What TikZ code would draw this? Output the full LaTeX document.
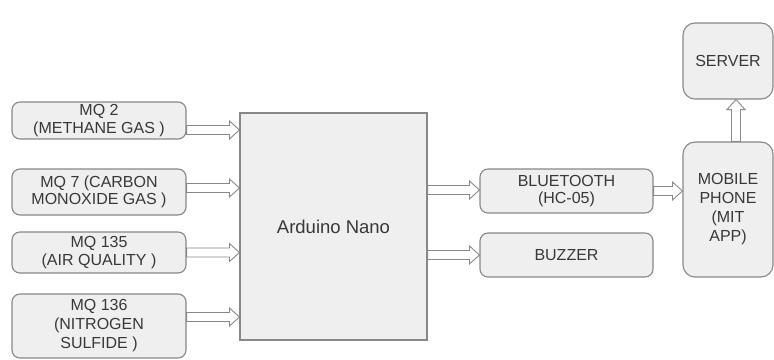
\documentclass[tikz,border=0pt]{standalone}
\usepackage{fontspec}
\setmainfont{Liberation Sans}
\usetikzlibrary{calc}
\definecolor{boxfill}{HTML}{EFEFEF}
\definecolor{boxline}{HTML}{888888}
\definecolor{txt}{HTML}{383838}
\tikzset{
  blk/.style={draw=boxline, fill=boxfill, line width=1.1pt, rounded corners=8pt,
    inner sep=0pt, align=center, text=txt,
    font=\fontsize{16}{17.5}\selectfont},
  blockarrow/.style={draw=boxline, fill=white, line width=0.9pt, line join=miter}
}
\newcommand\harrow[2]{\path[blockarrow] let \p1=(#1), \p2=(#2) in
  (\x1,\y1+4.5pt) -- (\x2-10pt,\y1+4.5pt) -- (\x2-10pt,\y1+9pt) -- (\x2,\y1)
  -- (\x2-10pt,\y1-9pt) -- (\x2-10pt,\y1-4.5pt) -- (\x1,\y1-4.5pt) -- cycle;}
\newcommand\varrow[2]{\path[blockarrow] let \p1=(#1), \p2=(#2) in
  (\x1-4.5pt,\y1) -- (\x1-4.5pt,\y2-10pt) -- (\x1-9pt,\y2-10pt) -- (\x1,\y2)
  -- (\x1+9pt,\y2-10pt) -- (\x1+4.5pt,\y2-10pt) -- (\x1+4.5pt,\y1) -- cycle;}
\begin{document}
\begin{tikzpicture}[x=1pt,y=-1pt]
\useasboundingbox (0,0) rectangle (774,359);
\fill[white] (0,0) rectangle (774,359);
\node[blk, minimum width=174pt, minimum height=37pt] (s1) at (99,120.5) {MQ 2\\(METHANE GAS )};
\node[blk, minimum width=174pt, minimum height=46pt] (s2) at (99,192) {MQ 7 (CARBON\\MONOXIDE GAS )};
\node[blk, minimum width=174pt, minimum height=41pt] (s3) at (99,252.5) {MQ 135\\(AIR QUALITY )};
\node[blk, minimum width=174pt, minimum height=64pt, font=\fontsize{16}{19}\selectfont] (s4) at (99,326) {MQ 136\\(NITROGEN\\SULFIDE )};
\node[blk, rounded corners=0pt, minimum width=187pt, minimum height=227pt, font=\fontsize{18.5}{20}\selectfont] (ard) at (333.5,226.5) {Arduino Nano};
\node[blk, minimum width=173pt, minimum height=44pt] (bt) at (566.5,191) {BLUETOOTH\\(HC-05)};
\node[blk, minimum width=173pt, minimum height=44pt] (bz) at (566.5,255) {BUZZER};
\node[blk, rounded corners=12pt, minimum width=90pt, minimum height=135pt, font=\fontsize{16}{19}\selectfont] (mob) at (728,209.5) {MOBILE\\PHONE\\(MIT\\APP)};
\node[blk, rounded corners=12pt, minimum width=90pt, minimum height=76pt] (srv) at (728,61) {SERVER};
\harrow{[yshift=-9.5pt]s1.east}{ard.west}
\harrow{[yshift=4pt]s2.east}{ard.west}
\harrow{s3.east}{ard.west}
\harrow{[yshift=9pt]s4.east}{ard.west}
\harrow{[yshift=1pt]ard.east |- bt.west}{bt.west}
\harrow{ard.east |- bz.west}{bz.west}
\harrow{bt.east}{mob.west}
\varrow{[xshift=8pt]mob.north}{[xshift=8pt]srv.south}
\end{tikzpicture}
\end{document}
